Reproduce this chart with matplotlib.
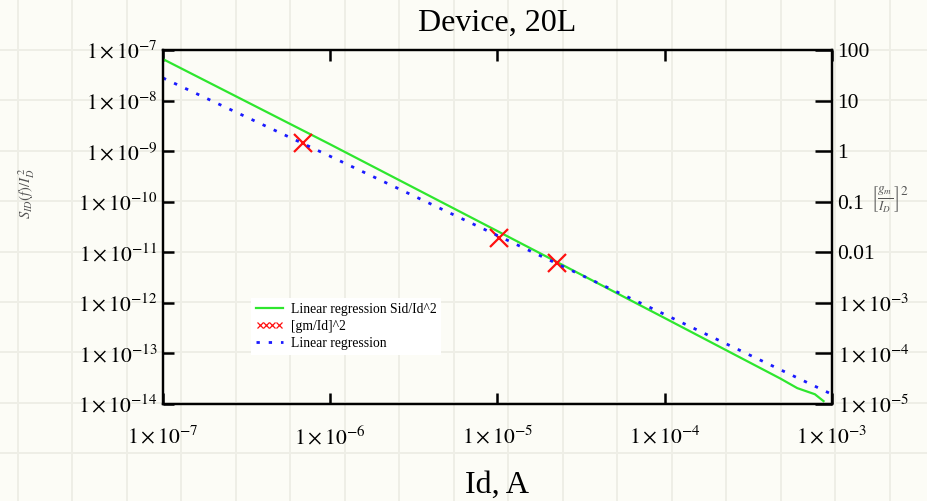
import numpy as np
import matplotlib
matplotlib.use("Agg")
import matplotlib.pyplot as plt
from matplotlib.ticker import FixedLocator, FixedFormatter, NullLocator
from matplotlib.legend_handler import HandlerLine2D

plt.rcParams['font.family'] = ['Liberation Serif', 'DejaVu Serif']
plt.rcParams['mathtext.fontset'] = 'stix'

# ---- data ----
green_x = [1e-7, 1e-6, 1e-5, 1e-4, 4.9e-4, 6.2e-4, 7.9e-4, 8.9e-4]
green_y = [6.6e-8, 1.36e-9, 2.62e-11, 5.0e-13, 3.2e-14, 2.06e-14, 1.56e-14, 1.14e-14]

blue_x = [1e-7, 1e-6, 1e-5, 1e-4, 1e-3]
blue_y = [2.8e-8, 7.9e-10, 2.14e-11, 5.9e-13, 1.55e-14]

red_x = [6.9e-7, 1.02e-5, 2.27e-5]
red_y = [1.43e-9, 1.95e-11, 6.2e-12]

x_ticks = [1e-7, 1e-6, 1e-5, 1e-4, 1e-3]
x_tick_labels = [r'$1\times10^{-7}$', r'$1\times10^{-6}$', r'$1\times10^{-5}$',
                 r'$1\times10^{-4}$', r'$1\times10^{-3}$']
y_ticks = [1e-7, 1e-8, 1e-9, 1e-10, 1e-11, 1e-12, 1e-13, 1e-14]
y_tick_labels = [r'$1\times10^{-7}$', r'$1\times10^{-8}$', r'$1\times10^{-9}$',
                 r'$1\times10^{-10}$', r'$1\times10^{-11}$', r'$1\times10^{-12}$',
                 r'$1\times10^{-13}$', r'$1\times10^{-14}$']
y2_ticks = [1e2, 1e1, 1e0, 1e-1, 1e-2, 1e-3, 1e-4, 1e-5]
y2_tick_labels = ['100', '10', '1', '0.1', '0.01', r'$1\times10^{-3}$',
                  r'$1\times10^{-4}$', r'$1\times10^{-5}$']
right_scale = 1e9

W, H = 927, 501
fig = plt.figure(figsize=(W / 100, H / 100), dpi=100, facecolor='#fcfcf6')

# worksheet background grid
bg = fig.add_axes([0, 0, 1, 1], zorder=-5)
bg.set_xlim(0, W)
bg.set_ylim(H, 0)
bg.set_facecolor('#fcfcf6')
bg.xaxis.set_major_locator(FixedLocator(np.arange(18, W, 54.5)))
bg.yaxis.set_major_locator(FixedLocator(np.arange(-0.5, H, 50.4)))
bg.grid(True, color='#eeeee6', lw=1.4)
bg.tick_params(length=0, labelleft=False, labelbottom=False)
for s in bg.spines.values():
    s.set_visible(False)

ax = fig.add_axes([163 / W, 1 - 404 / H, (832 - 163) / W, (404 - 50) / H])
ax.set_facecolor('none')
ax.set_xscale('log')
ax.set_yscale('log')
ax.set_xlim(1e-7, 1e-3)
ax.set_ylim(1e-14, 1e-7)

ax.plot(green_x, green_y, color='#2ee62e', lw=1.6, label='Linear regression Sid/Id^2')
ax.plot(red_x, red_y, ls='none', marker='x', color='#ff1010', ms=13, mew=1.6,
        label='[gm/Id]^2')
ax.plot(blue_x, blue_y, color='#1a1aff', lw=2.0, ls=(0, (1.2, 3.2)),
        label='Linear regression')

ax.xaxis.set_major_locator(FixedLocator(x_ticks))
ax.xaxis.set_major_formatter(FixedFormatter(x_tick_labels))
ax.xaxis.set_minor_locator(NullLocator())
ax.yaxis.set_major_locator(FixedLocator(y_ticks))
ax.yaxis.set_major_formatter(FixedFormatter(y_tick_labels))
ax.yaxis.set_minor_locator(NullLocator())
ax.tick_params(axis='both', direction='in', length=8, width=1.8, labelsize=15.5,
               top=True, right=False)
ax.tick_params(axis='x', pad=16)
ax.tick_params(axis='y', pad=4)
for s in ax.spines.values():
    s.set_linewidth(1.6)

ax2 = ax.twinx()
ax2.set_yscale('log')
ax2.set_ylim(1e-14 * right_scale, 1e-7 * right_scale)
ax2.yaxis.set_major_locator(FixedLocator(y2_ticks))
ax2.yaxis.set_major_formatter(FixedFormatter(y2_tick_labels))
ax2.yaxis.set_minor_locator(NullLocator())
ax2.tick_params(axis='y', direction='in', length=12, width=1.8, labelsize=15.5, pad=4)
for s in ax2.spines.values():
    s.set_linewidth(1.6)

ax.set_title('Device, 20L', fontsize=23, pad=14)
ax.set_xlabel('Id, A', fontsize=23, labelpad=15)

fig.text(27 / W, 1 - 193 / H, r'$S_{ID}(f)/I_D^{\,2}$', rotation=90, fontsize=10.5,
         color='#555555', ha='center', va='center')
fig.text(871 / W, 1 - 199 / H, r'$\left[\frac{g_m}{I_D}\right]^2$', fontsize=13.5,
         color='#555555', ha='left', va='center')

leg = ax.legend(loc='upper left', bbox_to_anchor=((244 - 163) / 669, (404 - 291) / 354),
                fontsize=9.8, frameon=True, fancybox=False, framealpha=1,
                edgecolor='none', facecolor='white', handlelength=2.0,
                handletextpad=0.6, borderpad=0.35, labelspacing=0.3,
                handler_map={ax.lines[1]: HandlerLine2D(numpoints=4)})
leg.legend_handles[1].set_markersize(4)
leg.legend_handles[1].set_markeredgewidth(0.9)

fig.savefig('out.png', dpi=100, facecolor=fig.get_facecolor())
